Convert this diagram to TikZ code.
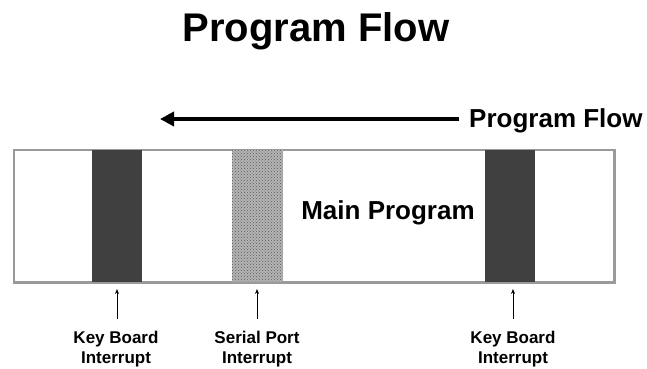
\documentclass[tikz,border=0pt]{standalone}
\usepackage{fontspec}
\setmainfont{Liberation Sans}
\usetikzlibrary{arrows.meta,patterns}
\definecolor{darkbar}{HTML}{404040}
\definecolor{hatchbg}{HTML}{B4B4B4}
\definecolor{framegray}{HTML}{9A9A9A}
\begin{document}
\begin{tikzpicture}[x=1pt,y=-1pt,
  bigtext/.style={font=\fontsize{26}{28}\selectfont\bfseries, inner sep=0pt},
  lbl/.style={font=\fontsize{17}{20}\selectfont\bfseries, align=center, inner sep=0pt},
  darkstripe/.style={fill=darkbar, draw=none},
  upar/.style={-{Stealth[length=5pt,width=4pt]}, line width=0.8pt}]
\useasboundingbox (0,0) rectangle (647,368);
\node[font=\fontsize{40}{44}\selectfont\bfseries, inner sep=0pt] (title) at (316,31) {Program Flow};
% main frame
\node[draw=framegray, line width=1.5pt, minimum width=600pt, minimum height=132pt, inner sep=0pt] (frame) at (314,216) {};
% stripes
\fill[darkstripe] (92,150) rectangle (142,282);
\fill[hatchbg] (232,150) rectangle (283,282);
\fill[pattern=crosshatch dots, pattern color=gray!70!black] (232,150) rectangle (283,282);
\fill[darkstripe] (485,150) rectangle (535,282);
\draw[framegray, line width=1.5pt] (frame.north west) rectangle (frame.south east);
\node[bigtext] (main) at (388,213) {Main Program};
% program flow arrow
\node[bigtext, anchor=west] (pf) at (469,121) {Program Flow};
\coordinate (aend) at (160,119);
\draw[line width=4pt, -{Triangle[length=14pt,width=14pt]}] (pf.west |- aend) ++(-10,0) -- (aend);
% labels
\node[lbl] (kb1) at (116,349) {Key Board\\Interrupt};
\node[lbl] (sp) at (257,349) {Serial Port\\Interrupt};
\node[lbl] (kb2) at (513,349) {Key Board\\Interrupt};
\coordinate (t1) at (117,289);
\coordinate (t2) at (257,289);
\coordinate (t3) at (513,289);
\draw[upar] (t1 |- 0,319) -- (t1);
\draw[upar] (t2 |- 0,319) -- (t2);
\draw[upar] (t3 |- 0,319) -- (t3);
\end{tikzpicture}
\end{document}
